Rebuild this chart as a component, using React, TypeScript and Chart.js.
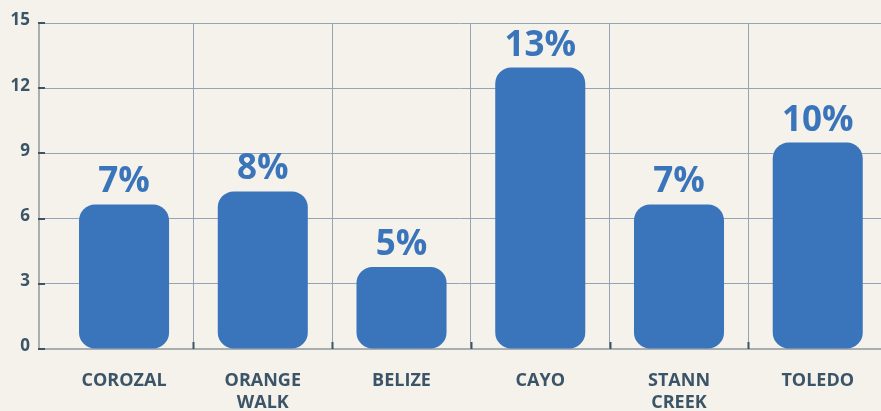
import React, { useEffect, useRef } from 'react';
import { Chart, registerables } from 'chart.js';

Chart.register(...registerables);

const categories: string[][] = [['COROZAL'], ['ORANGE', 'WALK'], ['BELIZE'], ['CAYO'], ['STANN', 'CREEK'], ['TOLEDO']];
const values: number[] = [6.65, 7.25, 3.77, 12.95, 6.65, 9.5];
const percentLabels: string[] = ['7%', '8%', '5%', '13%', '7%', '10%'];
const yMin = 0;
const yMax = 15;
const yStep = 3;
// visible category range on the x axis (in category units)
const X_MIN = -0.613;
const X_MAX = 5.456;

const BG = '#f5f2eb';
const BAR = '#3a74bb';
const GRID = '#93a5b4';
const AXIS = '#a9aeb1';
const LABEL = '#3b5467';
const FONT = "'Open Sans', 'Noto Sans', sans-serif";

const decorPlugin = {
  id: 'decor',
  afterDraw(chart: any) {
    const { ctx, chartArea } = chart;
    const xs = chart.scales.x;
    const ys = chart.scales.y;
    ctx.save();
    ctx.strokeStyle = LABEL;
    ctx.lineWidth = 2;
    ys.ticks.forEach((t: any) => {
      const py = Math.round(ys.getPixelForValue(t.value));
      ctx.beginPath();
      ctx.moveTo(chartArea.left - 1, py);
      ctx.lineTo(chartArea.left + 6, py);
      ctx.stroke();
    });
    for (let i = 1; i < categories.length; i++) {
      const px = Math.round(xs.getPixelForValue(i - 0.5)) + 0.5;
      if (px < chartArea.left || px > chartArea.right) continue;
      ctx.beginPath();
      ctx.moveTo(px, chartArea.bottom - 7);
      ctx.lineTo(px, chartArea.bottom);
      ctx.stroke();
    }
    const meta = chart.getDatasetMeta(0);
    ctx.fillStyle = BAR;
    ctx.font = `bold 35px ${FONT}`;
    ctx.textAlign = 'center';
    ctx.textBaseline = 'alphabetic';
    meta.data.forEach((bar: any, i: number) => {
      ctx.fillText(percentLabels[i], bar.x, bar.y - 12);
    });
    ctx.restore();
  },
};

export default function App() {
  const ref = useRef<HTMLCanvasElement>(null);
  useEffect(() => {
    document.body.style.margin = '0';
    document.body.style.background = BG;
    const chart = new Chart(ref.current as HTMLCanvasElement, {
      type: 'bar',
      data: {
        labels: categories as any,
        datasets: [
          {
            data: values,
            backgroundColor: BAR,
            borderRadius: 16,
            borderSkipped: false,
            categoryPercentage: 1,
            barPercentage: 0.649,
          },
        ],
      },
      options: {
        responsive: false,
        animation: false,
        layout: { padding: { top: 23, left: 0, right: 0, bottom: 0 } },
        plugins: { legend: { display: false }, tooltip: { enabled: false } },
        scales: {
          x: {
            afterBuildTicks: (s: any) => {
              s._startValue = X_MIN;
              s._valueRange = X_MAX - X_MIN;
            },
            afterFit: (s: any) => {
              s.height = 62;
            },
            grid: {
              color: (c: any) => (c.index === 0 ? 'rgba(0,0,0,0)' : GRID),
              drawTicks: false,
              lineWidth: 1,
            },
            border: { color: AXIS, width: 2 },
            ticks: {
              color: LABEL,
              font: { family: FONT, size: 18, weight: 'bold', lineHeight: 1.22 },
              padding: 21,
              maxRotation: 0,
              autoSkip: false,
            },
          },
          y: {
            min: yMin,
            max: yMax,
            afterFit: (s: any) => {
              s.width = 39;
            },
            grid: { color: GRID, drawTicks: false, lineWidth: 1 },
            border: { color: AXIS, width: 2 },
            ticks: {
              stepSize: yStep,
              color: LABEL,
              font: { family: FONT, size: 17, weight: 'bold' },
              padding: 9,
              labelOffset: -2.5,
            },
          },
        },
      },
      plugins: [decorPlugin],
    });
    return () => chart.destroy();
  }, []);
  return (
    <div style={{ width: 881, height: 411, background: BG, overflow: 'hidden' }}>
      <canvas ref={ref} width={881} height={411} style={{ display: 'block' }} />
    </div>
  );
}
